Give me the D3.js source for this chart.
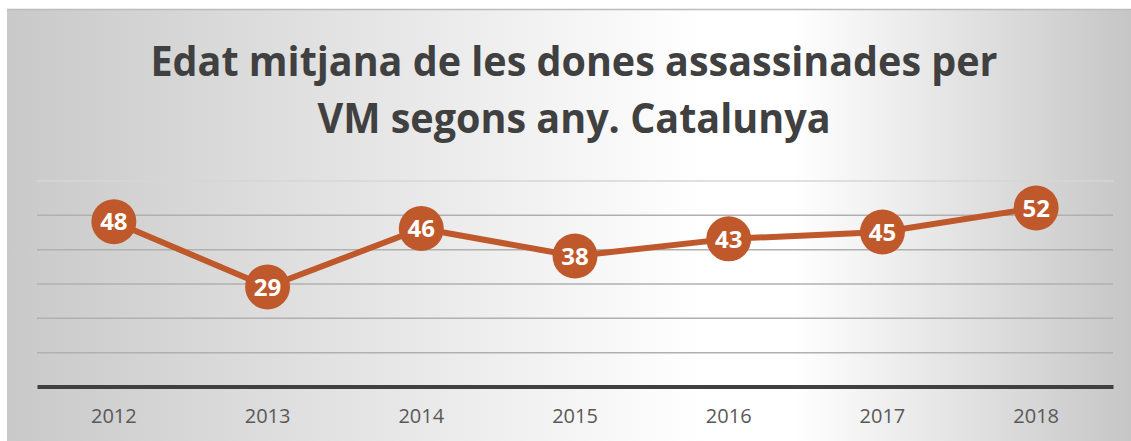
<!DOCTYPE html>
<html>
<head>
<meta charset="utf-8">
<script src="https://cdn.jsdelivr.net/npm/d3@7"></script>
<style>
  body { margin: 0; background: #fff; }
  svg { display: block; }
</style>
</head>
<body>
<svg id="chart"></svg>
<script>
// data
var years = ["2012", "2013", "2014", "2015", "2016", "2017", "2018"];
var ages = [48, 29, 46, 38, 43, 45, 52];
var yTicks = [0, 10, 20, 30, 40, 50, 60];
var titleLines = ["Edat mitjana de les dones assassinades per", "VM segons any. Catalunya"];

var width = 1131, height = 441;
var margin = { top: 180.5, right: 18, bottom: 54.5, left: 37 };

var svg = d3.select("#chart")
    .attr("width", width)
    .attr("height", height);

//background gradient, whitest a bit right of centre
var defs = svg.append("defs");
var grad = defs.append("linearGradient")
    .attr("id", "bg")
    .attr("x1", 0).attr("x2", 1).attr("y1", 0).attr("y2", 0);
grad.append("stop").attr("offset", "0").attr("stop-color", "#c9c9c9");
grad.append("stop").attr("offset", "0.62").attr("stop-color", "#ffffff");
grad.append("stop").attr("offset", "0.7").attr("stop-color", "#ffffff");
grad.append("stop").attr("offset", "1").attr("stop-color", "#c6c6c6");

svg.append("rect")
    .attr("x", 7).attr("y", 9)
    .attr("width", width - 7).attr("height", height - 9)
    .attr("fill", "url(#bg)");
svg.append("line")
    .attr("x1", 7).attr("x2", width)
    .attr("y1", 9.5).attr("y2", 9.5)
    .attr("stroke", "#bcbcbc").attr("stroke-width", 1.5);

//title
var title = svg.append("text")
    .attr("text-anchor", "middle")
    .attr("font-family", "'Open Sans', sans-serif")
    .attr("font-weight", "bold")
    .attr("font-size", 41)
    .attr("fill", "#404040");
title.append("tspan")
    .attr("x", 574).attr("y", 76)
    .attr("textLength", 847)
    .attr("lengthAdjust", "spacingAndGlyphs")
    .text(titleLines[0]);
title.append("tspan")
    .attr("x", 574).attr("y", 133)
    .attr("textLength", 513)
    .attr("lengthAdjust", "spacingAndGlyphs")
    .text(titleLines[1]);

var plotW = width - margin.left - margin.right;
var plotH = height - margin.top - margin.bottom;

var x = d3.scaleBand()
    .domain(years)
    .range([margin.left, margin.left + plotW]);

var y = d3.scaleLinear()
    .domain([0, 60])
    .range([margin.top + plotH, margin.top]);

//gridlines
var grid = svg.append("g")
    .attr("transform", "translate(" + margin.left + ",0)")
    .call(d3.axisLeft(y).tickValues(yTicks.slice(1)).tickSize(-plotW).tickFormat(""));
grid.select(".domain").remove();
grid.selectAll(".tick line")
    .attr("stroke", function (d) { return d === 60 ? "#d6d6d6" : "#b0b0b0"; })
    .attr("stroke-width", 1.5);

//x axis
var xAxis = svg.append("g")
    .attr("transform", "translate(0," + y(0) + ")")
    .call(d3.axisBottom(x).tickSize(0).tickPadding(22));
xAxis.select(".domain")
    .attr("stroke", "#404040")
    .attr("stroke-width", 4);
xAxis.selectAll("text")
    .attr("font-family", "'Open Sans', sans-serif")
    .attr("font-size", 20)
    .attr("fill", "#595959");

//line
var line = d3.line()
    .x(function (d, i) { return x(years[i]) + x.bandwidth() / 2; })
    .y(function (d) { return y(d); });

svg.append("path")
    .datum(ages)
    .attr("d", line)
    .attr("fill", "none")
    .attr("stroke", "#bf592b")
    .attr("stroke-width", 6)
    .attr("stroke-linejoin", "round");

//markers
var marks = svg.append("g")
    .selectAll("g")
    .data(ages)
    .enter().append("g")
    .attr("transform", function (d, i) {
        return "translate(" + (x(years[i]) + x.bandwidth() / 2) + "," + y(d) + ")";
    });

marks.append("circle")
    .attr("r", 22.5)
    .attr("fill", "#bf592b");

marks.append("text")
    .attr("text-anchor", "middle")
    .attr("dy", "0.36em")
    .attr("font-family", "'Open Sans', sans-serif")
    .attr("font-weight", "bold")
    .attr("font-size", 24)
    .attr("fill", "#fff")
    .text(function (d) { return d; });
</script>
</body>
</html>
